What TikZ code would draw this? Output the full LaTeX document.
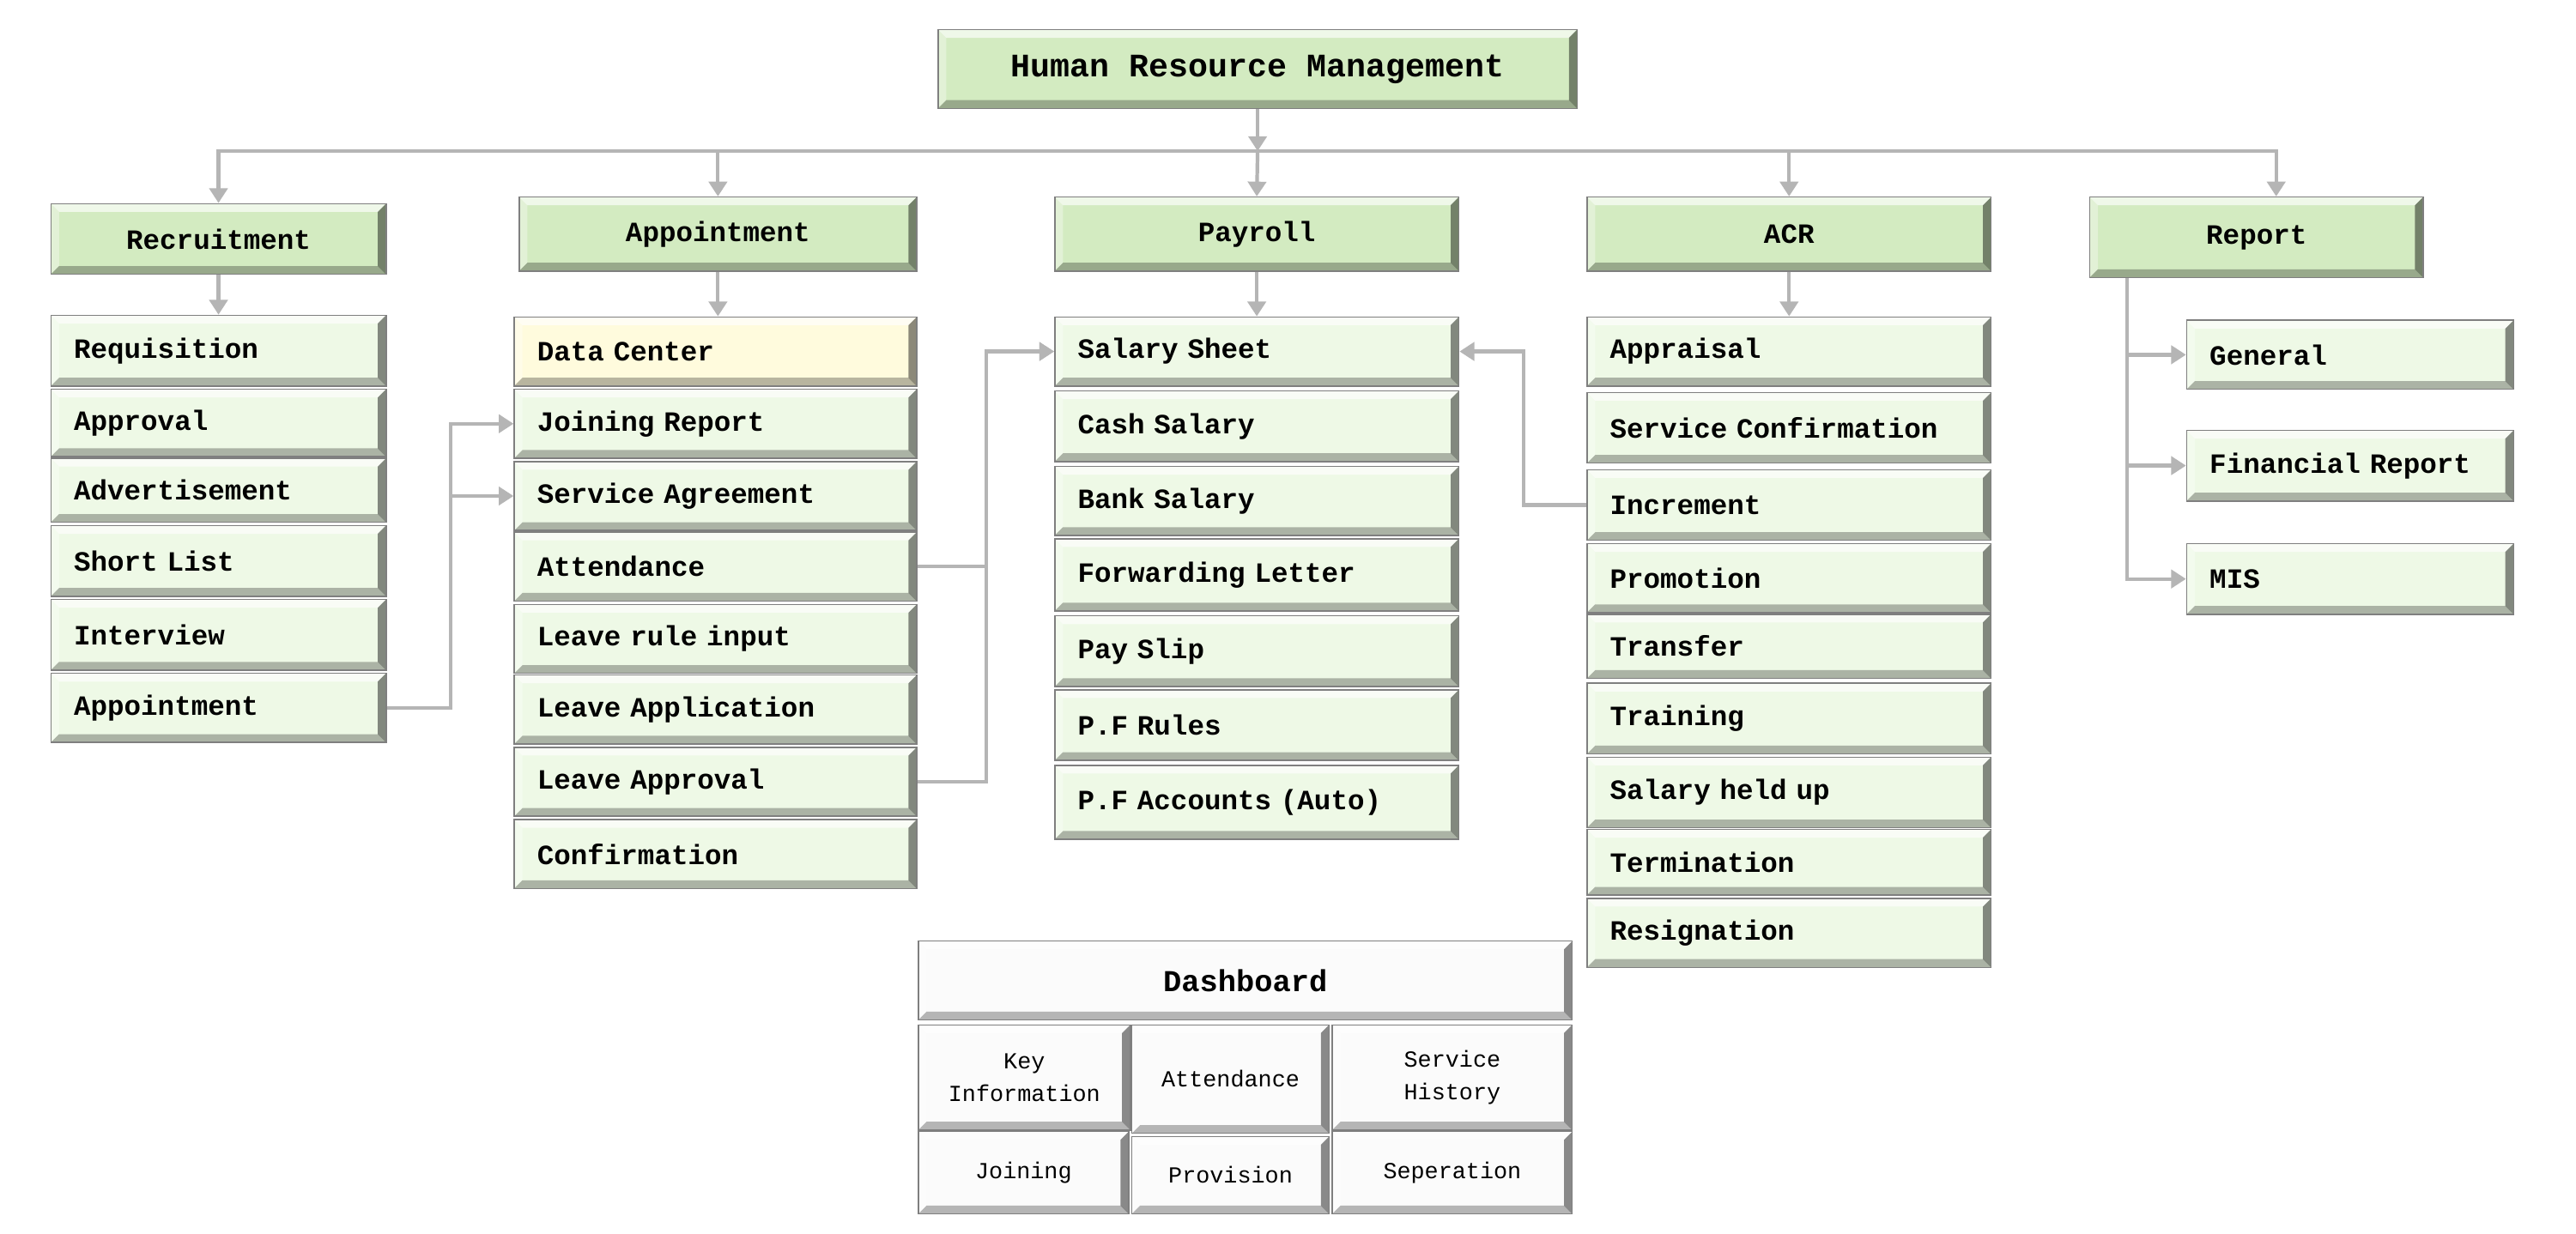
\documentclass[tikz,border=0pt]{standalone}
\usepackage{fontspec}
\setmainfont{Liberation Mono}[WordSpace={1,0,0}]
\usetikzlibrary{arrows.meta}
\definecolor{hdr}{HTML}{D3EBC1}
\definecolor{itm}{HTML}{EEF9E6}
\definecolor{yel}{HTML}{FFFBDD}
\definecolor{dsh}{HTML}{FBFBFB}
\definecolor{lnk}{HTML}{B5B5B5}
\definecolor{edge}{HTML}{7F7F7F}
\tikzset{
  bevel/.style={path picture={
    \def\bw{5pt}
    \fill[white,opacity=.65] (path picture bounding box.north west) -- (path picture bounding box.north east) -- ([xshift=-\bw,yshift=-\bw]path picture bounding box.north east) -- ([xshift=\bw,yshift=-\bw]path picture bounding box.north west) -- cycle;
    \fill[white,opacity=.35] (path picture bounding box.north west) -- (path picture bounding box.south west) -- ([xshift=\bw,yshift=\bw]path picture bounding box.south west) -- ([xshift=\bw,yshift=-\bw]path picture bounding box.north west) -- cycle;
    \fill[black,opacity=.28] (path picture bounding box.south west) -- (path picture bounding box.south east) -- ([xshift=-\bw,yshift=\bw]path picture bounding box.south east) -- ([xshift=\bw,yshift=\bw]path picture bounding box.south west) -- cycle;
    \fill[black,opacity=.45] (path picture bounding box.north east) -- (path picture bounding box.south east) -- ([xshift=-\bw,yshift=\bw]path picture bounding box.south east) -- ([xshift=-\bw,yshift=-\bw]path picture bounding box.north east) -- cycle;
  }},
  box/.style={draw=edge,line width=0.8pt,bevel,inner ysep=0pt,font=\bfseries\fontsize{17}{19}\selectfont},
  hbox/.style={box,fill=hdr},
  ibox/.style={box,fill=itm},
  ybox/.style={box,fill=yel},
  topbox/.style={hbox,font=\bfseries\fontsize{20}{22}\selectfont},
  dbox/.style={box,fill=dsh,align=center,font=\bfseries\fontsize{18.5}{21}\selectfont},
  dsub/.style={box,fill=dsh,align=center,font=\fontsize{14}{20}\selectfont},
  link/.style={draw=lnk,line width=2.2pt,-{Triangle[length=9pt,width=11pt]}},
}
\newcommand\cbx[7]{%
  \pgfmathsetmacro\bxw{#5-#3}\pgfmathsetmacro\bxh{#6-#4}%
  \node[#1,minimum width=\bxw pt,minimum height=\bxh pt] (#2) at ({(#3+#5)/2},{(#4+#6)/2}) {#7};}
\newcommand\lbx[7]{%
  \pgfmathsetmacro\bxw{#5-#3-28}\pgfmathsetmacro\bxh{#6-#4}%
  \node[#1,inner xsep=14pt,text width=\bxw pt,align=left,minimum height=\bxh pt] (#2) at ({(#3+#5)/2},{(#4+#6)/2}) {#7};}
\begin{document}
\begin{tikzpicture}[x=1pt,y=-1pt]
\useasboundingbox[fill=white] (0,0) rectangle (1568,751);
% top
\cbx{topbox}{hrm}{571}{18}{960}{66}{Human Resource Management}
% headers
\cbx{hbox}{rec}{31}{124}{235}{167}{Recruitment}
\cbx{hbox}{app}{316}{120}{558}{165}{Appointment}
\cbx{hbox}{pay}{642}{120}{888}{165}{Payroll}
\cbx{hbox}{acr}{966}{120}{1212}{165}{ACR}
\cbx{hbox}{rep}{1272}{120}{1475}{169}{Report}
% recruitment items
\lbx{ibox}{r1}{31}{192}{235}{235}{Requisition}
\lbx{ibox}{r2}{31}{237}{235}{278}{Approval}
\lbx{ibox}{r3}{31}{279}{235}{318}{Advertisement}
\lbx{ibox}{r4}{31}{320}{235}{363}{Short List}
\lbx{ibox}{r5}{31}{365}{235}{408}{Interview}
\lbx{ibox}{r6}{31}{410}{235}{452}{Appointment}
% appointment items
\lbx{ybox}{a1}{313}{193}{558}{235}{Data Center}
\lbx{ibox}{a2}{313}{237}{558}{279}{Joining Report}
\lbx{ibox}{a3}{313}{281}{558}{323}{Service Agreement}
\lbx{ibox}{a4}{313}{324}{558}{366}{Attendance}
\lbx{ibox}{a5}{313}{368}{558}{410}{Leave rule input}
\lbx{ibox}{a6}{313}{411}{558}{453}{Leave Application}
\lbx{ibox}{a7}{313}{455}{558}{497}{Leave Approval}
\lbx{ibox}{a8}{313}{499}{558}{541}{Confirmation}
% payroll items
\lbx{ibox}{p1}{642}{193}{888}{235}{Salary Sheet}
\lbx{ibox}{p2}{642}{238}{888}{281}{Cash Salary}
\lbx{ibox}{p3}{642}{284}{888}{326}{Bank Salary}
\lbx{ibox}{p4}{642}{328}{888}{372}{Forwarding Letter}
\lbx{ibox}{p5}{642}{375}{888}{418}{Pay Slip}
\lbx{ibox}{p6}{642}{420}{888}{463}{P.F Rules}
\lbx{ibox}{p7}{642}{466}{888}{511}{P.F Accounts (Auto)}
% ACR items
\lbx{ibox}{c1}{966}{193}{1212}{235}{Appraisal}
\lbx{ibox}{c2}{966}{239}{1212}{282}{Service Confirmation}
\lbx{ibox}{c3}{966}{286}{1212}{329}{Increment}
\lbx{ibox}{c4}{966}{331}{1212}{373}{Promotion}
\lbx{ibox}{c5}{966}{374}{1212}{413}{Transfer}
\lbx{ibox}{c6}{966}{416}{1212}{459}{Training}
\lbx{ibox}{c7}{966}{461}{1212}{504}{Salary held up}
\lbx{ibox}{c8}{966}{505}{1212}{545}{Termination}
\lbx{ibox}{c9}{966}{547}{1212}{589}{Resignation}
% report items
\lbx{ibox}{g1}{1331}{195}{1530}{237}{General}
\lbx{ibox}{g2}{1331}{262}{1530}{305}{Financial Report}
\lbx{ibox}{g3}{1331}{331}{1530}{374}{MIS}
% dashboard
\cbx{dbox}{dash}{559}{573}{957}{621}{Dashboard}
\cbx{dsub}{d1}{559}{624}{688}{688}{Key\\Information}
\cbx{dsub}{d2}{689}{624}{809}{690}{Attendance}
\cbx{dsub}{d3}{811}{624}{957}{688}{Service\\History}
\cbx{dsub}{d4}{559}{689}{687}{739}{Joining}
\cbx{dsub}{d5}{689}{692}{809}{739}{Provision}
\cbx{dsub}{d6}{811}{689}{957}{739}{Seperation}
% connectors
\coordinate (bus) at (hrm.south |- 0,92);
\draw[link] (hrm.south) -- (bus);
\draw[link] (bus) -| (rec.north);
\draw[link] (bus) -| (app.north);
\draw[link] (bus) -- (pay.north);
\draw[link] (bus) -| (acr.north);
\draw[link] (bus) -| ([xshift=12pt]rep.north);
\draw[link] (rec.south) -- (r1.north);
\draw[link] (app.south) -- (app.south |- a1.north);
\draw[link] (pay.south) -- (p1.north);
\draw[link] (acr.south) -- (c1.north);
\draw[link] (r6.east) -- ++(39,0) |- (a2.west);
\draw[link] (r6.east) -- ++(39,0) |- (a3.west);
\draw[link] (a4.east) -- ++(42,0) |- (p1.west);
\draw[link] (a7.east) -- ++(42,0) |- (p1.west);
\draw[link] (c3.west) -- ++(-38,0) |- (p1.east);
\coordinate (rt) at ([xshift=23pt]rep.south west);
\draw[link] (rt) |- (g1.west);
\draw[link] (rt) |- (g2.west);
\draw[link] (rt) |- (g3.west);
\end{tikzpicture}
\end{document}
